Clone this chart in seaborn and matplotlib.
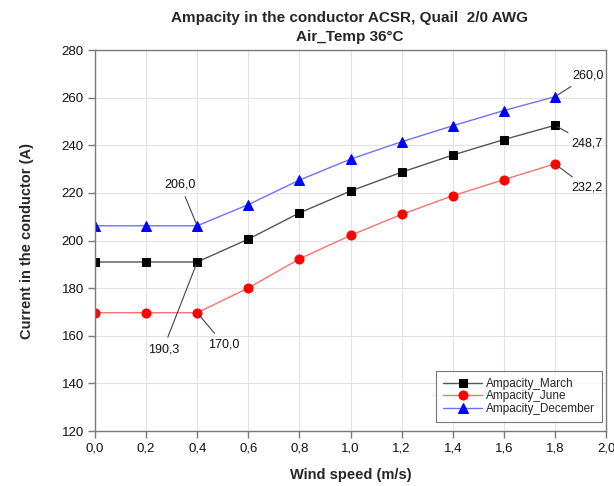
import matplotlib
matplotlib.use("Agg")
import matplotlib.pyplot as plt
import seaborn as sns
import pandas as pd
from matplotlib.ticker import FuncFormatter, MultipleLocator

wind = [0.0, 0.2, 0.4, 0.6, 0.8, 1.0, 1.2, 1.4, 1.6, 1.8]
march = [191.0, 191.0, 191.0, 200.6, 211.6, 220.8, 228.7, 235.9, 242.4, 248.4]
june = [169.7, 169.7, 169.7, 180.1, 192.3, 202.2, 211.0, 218.8, 225.6, 232.2]
december = [206.2, 206.2, 206.2, 215.1, 225.4, 234.2, 241.5, 248.2, 254.6, 260.4]
series_names = ["Ampacity_March", "Ampacity_June", "Ampacity_December"]

ann_texts = ["206,0", "190,3", "170,0", "260,0", "248,7", "232,2"]

sns.set_theme(style="whitegrid")
plt.rcParams['font.family'] = ['Liberation Sans', 'DejaVu Sans']

fig = plt.figure(figsize=(6.14, 4.86), dpi=100)
ax = fig.add_axes([0.1547, 0.113, 0.8323, 0.784])

styles = [
    (march, "black", "#555555", "s", 5.5),
    (june, "red", "#ff7070", "o", 6.5),
    (december, "blue", "#7070ff", "^", 7),
]
for (vals, mc, lc, mk, ms), name in zip(styles, series_names):
    df = pd.DataFrame({"x": wind, "y": vals})
    sns.lineplot(data=df, x="x", y="y", ax=ax, color=lc, linewidth=1.0,
                 marker=mk, markersize=ms, markerfacecolor=mc,
                 markeredgecolor=mc, label=name)

ax.set_xlim(0, 2.0)
ax.set_ylim(120, 280)
ax.xaxis.set_major_locator(MultipleLocator(0.2))
ax.yaxis.set_major_locator(MultipleLocator(20))
ax.xaxis.set_major_formatter(FuncFormatter(lambda v, p: f"{v:.1f}".replace(".", ",")))
ax.yaxis.set_major_formatter(FuncFormatter(lambda v, p: f"{int(round(v))}"))

ax.grid(True, color="#e2e2e2", linewidth=0.8)
for s in ax.spines.values():
    s.set_color("#7a7a7a")
    s.set_linewidth(1.0)
ax.tick_params(axis="both", which="major", direction="out", length=5, width=1,
               color="#7a7a7a", labelsize=9.5, labelcolor="#111111", pad=3)
ax.tick_params(bottom=True, left=True)

ax.set_xlabel("Wind speed (m/s)", fontsize=10.5, fontweight="bold", labelpad=10)
ax.set_ylabel("Current in the conductor (A)", fontsize=10.5, fontweight="bold", labelpad=20)
fig.text(0.57, 0.963, "Ampacity in the conductor ACSR, Quail  2/0 AWG", ha="center",
         va="center", fontsize=11, fontweight="bold")
fig.text(0.57, 0.924, "Air_Temp 36°C", ha="center", va="center",
         fontsize=11, fontweight="bold")

# annotations: (x index, series values, text, offset in points)
k = 72 / 100
anns = [
    (2, december, ann_texts[0], (-17 * k, 41 * k)),
    (2, march, ann_texts[1], (-34 * k, -87 * k)),
    (2, june, ann_texts[2], (27 * k, -32 * k)),
    (9, december, ann_texts[3], (33 * k, 21 * k)),
    (9, march, ann_texts[4], (32 * k, -18 * k)),
    (9, june, ann_texts[5], (32 * k, -24 * k)),
]
for i, vals, t, off in anns:
    ax.annotate(t, xy=(wind[i], vals[i]), xytext=off, textcoords="offset points",
                ha="center", va="center", fontsize=9, color="#111111",
                arrowprops=dict(arrowstyle="-", color="#444444", lw=0.8,
                                shrinkA=2, shrinkB=2), annotation_clip=False)

leg = ax.legend(loc="lower right", bbox_to_anchor=(0.9916, 0.0236), fontsize=8.5,
                frameon=True, fancybox=False, borderpad=0.6, labelspacing=0.05,
                handlelength=3.3, handletextpad=0.3, borderaxespad=0.0)
leg.get_frame().set_edgecolor("#555555")
leg.get_frame().set_linewidth(0.8)

fig.savefig("out.png", dpi=100)
